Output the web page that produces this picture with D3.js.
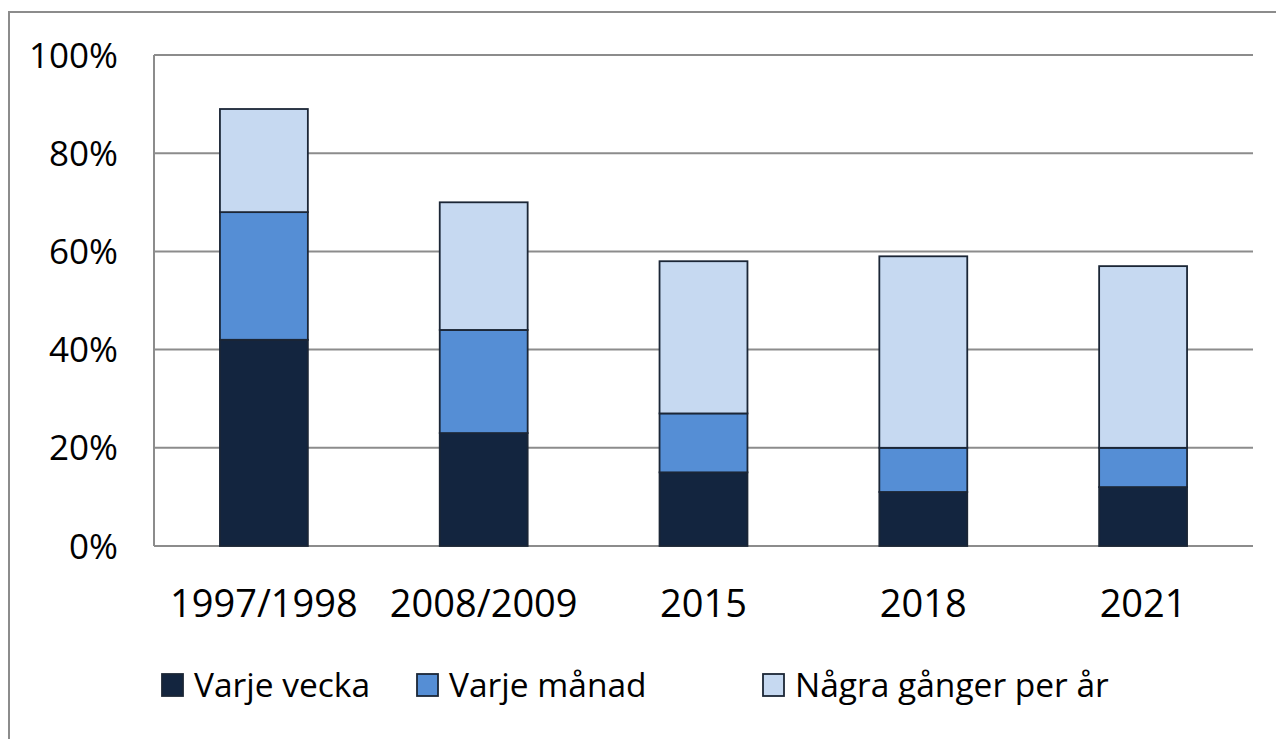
<!DOCTYPE html>
<html>
<head>
<meta charset="utf-8">
<script src="https://cdn.jsdelivr.net/npm/d3@7"></script>
<style>
  body { margin: 0; background: #fff; }
  text { font-family: "Open Sans", "Noto Sans", sans-serif; fill: #000; }
</style>
</head>
<body>
<div id="chart"></div>
<script>
// data (percent)
const years = ['1997/1998', '2008/2009', '2015', '2018', '2021'];
const weekly = [42, 23, 15, 11, 12];
const monthly = [26, 21, 12, 9, 8];
const fewPerYear = [21, 26, 31, 39, 37];
const seriesNames = ['Varje vecka', 'Varje månad', 'Några gånger per år'];
const yTicks = [0, 20, 40, 60, 80, 100];

const colors = ['#13253f', '#558ed5', '#c6d9f1'];

const W = 1276, H = 739;
const margin = { top: 55, right: 23, bottom: 193, left: 154 };
const width = W - margin.left - margin.right;
const height = H - margin.top - margin.bottom;

const svg = d3.select('#chart')
    .append('svg')
    .attr('width', W)
    .attr('height', H);

// outer frame, cropped at right and bottom like the screenshot
svg.append('path')
    .attr('d', `M9,${H} V12 H${W}`)
    .attr('fill', 'none')
    .attr('stroke', '#8c8c8c')
    .attr('stroke-width', 2);

const g = svg.append('g')
    .attr('transform', `translate(${margin.left}, ${margin.top})`);

const table = years.map((y, i) => ({
    year: y,
    'Varje vecka': weekly[i],
    'Varje månad': monthly[i],
    'Några gånger per år': fewPerYear[i]
}));
const stacked = d3.stack().keys(seriesNames)(table);

const xScale = d3.scaleBand()
    .domain(years)
    .range([0, width])
    .paddingInner(0.6)
    .paddingOuter(0.3);
const yScale = d3.scaleLinear()
    .domain([0, 100])
    .range([height, 0]);

// gridlines
g.append('g')
    .selectAll('line')
    .data(yTicks)
    .enter()
    .append('line')
    .attr('x1', 0)
    .attr('x2', width)
    .attr('y1', d => yScale(d))
    .attr('y2', d => yScale(d))
    .attr('stroke', '#8c8c8c')
    .attr('stroke-width', 2);

// y axis line
g.append('line')
    .attr('x1', 0).attr('x2', 0)
    .attr('y1', yScale(100)).attr('y2', yScale(0))
    .attr('stroke', '#8c8c8c')
    .attr('stroke-width', 2);

// y labels
g.append('g')
    .selectAll('text')
    .data(yTicks)
    .enter()
    .append('text')
    .attr('x', -36)
    .attr('y', d => yScale(d))
    .attr('dy', '0.36em')
    .attr('text-anchor', 'end')
    .style('font-size', '35px')
    .text(d => d + '%');

// bars
g.selectAll('.layer')
    .data(stacked)
    .enter()
    .append('g')
    .attr('class', 'layer')
    .attr('fill', (d, i) => colors[i])
    .selectAll('rect')
    .data(d => d)
    .enter()
    .append('rect')
    .attr('x', d => xScale(d.data.year))
    .attr('y', d => yScale(d[1]))
    .attr('width', xScale.bandwidth())
    .attr('height', d => yScale(d[0]) - yScale(d[1]))
    .attr('stroke', '#1b2636')
    .attr('stroke-width', 1.8);

// x labels
g.append('g')
    .selectAll('text')
    .data(years)
    .enter()
    .append('text')
    .attr('x', d => xScale(d) + xScale.bandwidth() / 2)
    .attr('y', height + 71)
    .attr('text-anchor', 'middle')
    .style('font-size', '38px')
    .text(d => d);

// legend
const legendX = [162, 417, 763];
const legend = svg.append('g')
    .selectAll('g')
    .data(seriesNames)
    .enter()
    .append('g')
    .attr('transform', (d, i) => `translate(${legendX[i]}, 674)`);
legend.append('rect')
    .attr('width', 21)
    .attr('height', 22)
    .attr('fill', (d, i) => colors[i])
    .attr('stroke', '#1b2636')
    .attr('stroke-width', 1.8);
legend.append('text')
    .attr('x', 32)
    .attr('y', 23)
    .style('font-size', '33.5px')
    .text(d => d);
</script>
</body>
</html>
